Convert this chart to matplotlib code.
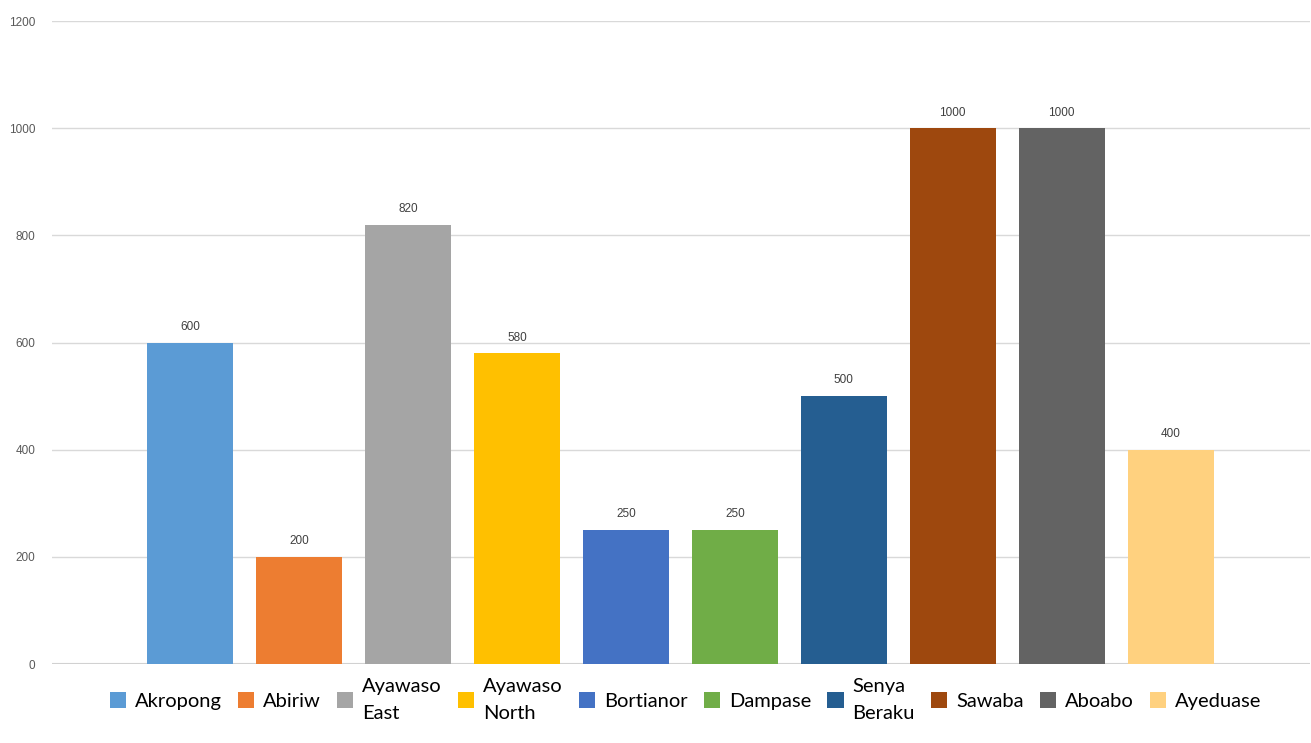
import numpy as np
import matplotlib.pyplot as plt
from matplotlib.patches import Patch

communities = ['Akropong', 'Abiriw', 'Ayawaso East', 'Ayawaso North', 'Bortianor',
               'Dampase', 'Senya Beraku', 'Sawaba', 'Aboabo', 'Ayeduase']
legend_labels = ['Akropong', 'Abiriw', 'Ayawaso\nEast', 'Ayawaso\nNorth', 'Bortianor',
                 'Dampase', 'Senya\nBeraku', 'Sawaba', 'Aboabo', 'Ayeduase']
values = [600, 200, 820, 580, 250, 250, 500, 1000, 1000, 400]
colors = ['#5B9BD5', '#ED7D31', '#A5A5A5', '#FFC000', '#4472C4',
          '#70AD47', '#255E91', '#9E480E', '#636363', '#FFD17F']
yticks = [0, 200, 400, 600, 800, 1000, 1200]

fig = plt.figure(figsize=(13.11, 7.43), dpi=100)
ax = fig.add_axes([0.0397, 0.1063, 0.9595, 0.8654])

x = np.arange(len(values))
bars = ax.bar(x, values, width=0.79, color=colors, zorder=2)
for b, v in zip(bars, values):
    ax.text(b.get_x() + b.get_width() / 2, v + 18, str(v), ha='center', va='bottom',
            fontsize=8.5, color='#404040', family='Liberation Sans')

ax.set_xlim(-1.27, 10.28)
ax.set_ylim(0, 1200)
ax.set_yticks(yticks)
ax.set_yticklabels([str(t) for t in yticks], fontsize=8.5, color='#595959', family='Liberation Sans')
ax.tick_params(axis='y', length=0, pad=12)
ax.set_xticks([])
ax.grid(axis='y', color='#D9D9D9', linewidth=1, zorder=0)
for s in ax.spines.values():
    s.set_visible(False)
ax.axhline(0, color='#D0D0D0', linewidth=1.5, zorder=1)

handles = [Patch(facecolor=c, edgecolor='none') for c in colors]
leg = fig.legend(handles, legend_labels, loc='center', bbox_to_anchor=(0.523, 0.058),
                 ncol=10, frameon=False, handlelength=0.8, handleheight=0.8,
                 handletextpad=0.45, columnspacing=0.8, prop={'family': 'Lato', 'size': 14.5})
for t in leg.get_texts():
    t.set_linespacing(1.7)

fig.savefig('out.png', dpi=100)
